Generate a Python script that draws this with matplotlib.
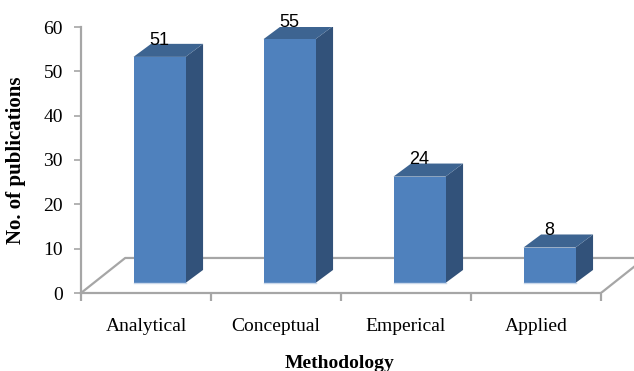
import matplotlib.pyplot as plt
from matplotlib.patches import Polygon

# publications per methodology
categories = ['Analytical', 'Conceptual', 'Emperical', 'Applied']
counts = [51, 55, 24, 8]

# colours for the three visible faces of each bar
front_col = '#4F81BD'
top_col = '#3D6491'
side_col = '#32527A'
floor_col = '#A6A6A6'

# depth of the floor and of the bars (x in category units, y in value units)
floor_dx, floor_dy = 0.34, 7.9
front_dx, front_dy = 0.104, 2.26
bar_dx, bar_dy = 0.135, 2.94
bar_w = 0.40

fig = plt.figure(figsize=(6.34, 3.71), dpi=100)
ax = fig.add_axes([81 / 634, 1 - 293 / 371, 1 - 81 / 634, (293 - 27) / 371])
ax.set_xlim(-0.5, 3.754)
ax.set_ylim(0, 60)

# floor outline behind the bars
n = len(categories)
ax.plot([-0.5, -0.5 + floor_dx, n + 0.5], [0, floor_dy, floor_dy],
        color=floor_col, lw=1.6, zorder=1, clip_on=False)
ax.plot([n - 0.5, n - 0.5 + floor_dx], [0, floor_dy],
        color=floor_col, lw=1.6, zorder=1)

# bars as three polygons each
for i, v in enumerate(counts):
    x0 = i + front_dx - bar_w / 2
    x1 = x0 + bar_w
    y0 = front_dy
    y1 = v + front_dy
    front = [(x0, y0), (x1, y0), (x1, y1), (x0, y1)]
    top = [(x0, y1), (x1, y1), (x1 + bar_dx, y1 + bar_dy), (x0 + bar_dx, y1 + bar_dy)]
    side = [(x1, y0), (x1 + bar_dx, y0 + bar_dy), (x1 + bar_dx, y1 + bar_dy), (x1, y1)]
    ax.add_patch(Polygon(side, closed=True, fc=side_col, ec='none', zorder=3))
    ax.add_patch(Polygon(top, closed=True, fc=top_col, ec='none', zorder=3))
    ax.add_patch(Polygon(front, closed=True, fc=front_col, ec='none', zorder=4))
    # thin light edge along the bottom of the front face
    ax.plot([x0, x1], [y0, y0], color='#C9D7EA', lw=1, zorder=4.5)
    ax.text(i + front_dx, y1 + bar_dy - 0.2, str(v), ha='center', va='baseline',
            fontsize=13, family='Liberation Sans', zorder=5, clip_on=False)

# axes styling
for s in ['top', 'right']:
    ax.spines[s].set_visible(False)
ax.spines['left'].set_color(floor_col)
ax.spines['bottom'].set_color(floor_col)
ax.spines['left'].set_linewidth(1.6)
ax.spines['bottom'].set_linewidth(1.6)
ax.spines['bottom'].set_bounds(-0.5, n - 0.5)

ax.set_yticks(range(0, 61, 10))
ax.tick_params(axis='y', direction='out', length=5, width=1.2, color=floor_col,
               labelsize=14, pad=8)
ax.set_xticks([k - 0.5 for k in range(n + 1)])
ax.set_xticklabels([])
ax.set_xticks(range(n), minor=True)
ax.set_xticklabels(categories, minor=True)
ax.tick_params(axis='x', which='major', direction='out', length=6, width=1.6,
               color=floor_col)
ax.tick_params(axis='x', which='minor', length=0, labelsize=14, pad=18)
for lbl in ax.get_yticklabels() + ax.get_xticklabels(minor=True):
    lbl.set_family('Liberation Serif')

ax.set_ylabel('No. of publications', family='Liberation Serif', fontsize=15,
              fontweight='bold', va='center')
ax.yaxis.set_label_coords(-(81 - 16) / 553, 0.5)
ax.set_xlabel('Methodology', family='Liberation Serif', fontsize=14,
              fontweight='bold', va='center')
ax.xaxis.set_label_coords((340 - 81) / 553, -(364 - 293) / 266)

fig.savefig('out.png', dpi=100)
